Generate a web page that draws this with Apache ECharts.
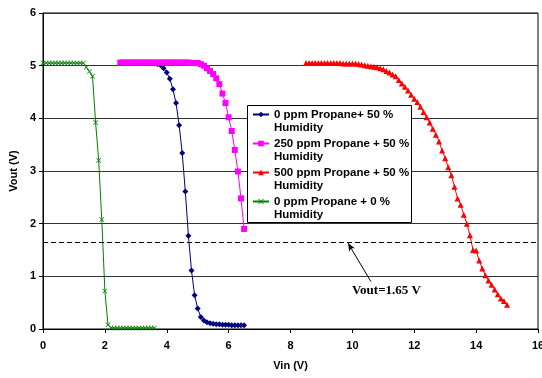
<!DOCTYPE html>
<html>
<head>
<meta charset="utf-8">
<script src="https://cdn.jsdelivr.net/npm/echarts@6/dist/echarts.min.js"></script>
<style>
  html, body { margin: 0; padding: 0; background: #fff; }
  #chart { width: 542px; height: 378px; }
</style>
</head>
<body>
<div id="chart"></div>
<script>
// Vin sweep (V) and measured Vout (V) for each curve
const blueVin = [2.5, 2.6, 2.7, 2.8, 2.9, 3.0, 3.1, 3.2, 3.3, 3.4, 3.5, 3.6, 3.7, 3.8, 3.9, 4.0, 4.1, 4.2, 4.3, 4.4,
  4.5, 4.6, 4.7, 4.8, 4.9, 5.0, 5.1, 5.2, 5.3, 5.4, 5.5, 5.6, 5.7, 5.8, 5.9, 6.0, 6.1, 6.2, 6.3, 6.4, 6.5];
const blueVout = [5.05, 5.05, 5.05, 5.05, 5.05, 5.05, 5.05, 5.05, 5.05, 5.05, 5.05, 5.04,
  5.03, 5.01, 4.95, 4.87, 4.75, 4.55, 4.29, 3.87, 3.34, 2.61,
  1.77, 1.11, 0.64, 0.39, 0.23, 0.16, 0.13, 0.11, 0.10, 0.09,
  0.09, 0.08, 0.08, 0.08, 0.07, 0.07, 0.07, 0.07, 0.07];

const pinkVin = [2.5, 2.6, 2.7, 2.8, 2.9, 3.0, 3.1, 3.2, 3.3, 3.4, 3.5, 3.6, 3.7, 3.8, 3.9, 4.0, 4.1, 4.2, 4.3, 4.4,
  4.5, 4.6, 4.7, 4.8, 4.9, 5.0, 5.1, 5.2, 5.3, 5.4, 5.5, 5.6, 5.7, 5.8, 5.9, 6.0, 6.1, 6.2, 6.3, 6.4, 6.5];
const pinkVout = [5.06, 5.06, 5.06, 5.06, 5.06, 5.06, 5.06, 5.06, 5.06, 5.06, 5.06, 5.06, 5.06, 5.06, 5.06,
  5.06, 5.06, 5.06, 5.06, 5.06, 5.06, 5.06, 5.06, 5.05, 5.05,
  5.05, 5.03, 5.00, 4.95, 4.90, 4.84, 4.76, 4.65, 4.47, 4.29,
  4.02, 3.76, 3.40, 2.99, 2.48, 1.90];

const redVin = [8.5, 8.6, 8.7, 8.8, 8.9, 9.0, 9.1, 9.2, 9.3, 9.4, 9.5, 9.6, 9.7, 9.8, 9.9,
  10.0, 10.1, 10.2, 10.3, 10.4, 10.5, 10.6, 10.7, 10.8, 10.9,
  11.0, 11.1, 11.2, 11.3, 11.4, 11.5, 11.6, 11.7, 11.8, 11.9,
  12.0, 12.1, 12.2, 12.3, 12.4, 12.5, 12.6, 12.7, 12.8, 12.9,
  13.0, 13.1, 13.2, 13.3, 13.4, 13.5, 13.6, 13.7, 13.8, 13.9,
  14.0, 14.1, 14.2, 14.3, 14.4, 14.5, 14.6, 14.7, 14.8, 14.9, 15.0];
const redVout = [5.05, 5.05, 5.05, 5.05, 5.05, 5.05, 5.05, 5.05, 5.05, 5.05, 5.05, 5.05, 5.04, 5.04, 5.04,
  5.04, 5.04, 5.03, 5.02, 5.01, 5.00, 4.99, 4.98, 4.97, 4.95,
  4.93, 4.90, 4.87, 4.83, 4.80, 4.73, 4.66, 4.60, 4.53, 4.45,
  4.37, 4.31, 4.22, 4.12, 4.02, 3.92, 3.80, 3.69, 3.56, 3.39,
  3.24, 3.07, 2.92, 2.70, 2.48, 2.36, 2.17, 2.00, 1.78, 1.50,
  1.49, 1.30, 1.15, 1.02, 0.92, 0.84, 0.75, 0.66, 0.58, 0.53, 0.46];

const greenVin = [0.0, 0.1, 0.2, 0.3, 0.4, 0.5, 0.6, 0.7, 0.8, 0.9, 1.0, 1.1, 1.2, 1.3,
  1.4, 1.5, 1.6, 1.7, 1.8, 1.9, 2.0, 2.1,
  2.2, 2.3, 2.4, 2.5, 2.6, 2.7, 2.8, 2.9, 3.0, 3.1, 3.2, 3.3, 3.4, 3.5, 3.6];
const greenVout = [5.05, 5.05, 5.05, 5.05, 5.05, 5.05, 5.05, 5.05, 5.05, 5.05, 5.05, 5.05, 5.05, 5.05,
  4.97, 4.89, 4.80, 3.92, 3.20, 2.08, 0.72, 0.08,
  0.02, 0.02, 0.02, 0.02, 0.02, 0.02, 0.02, 0.02, 0.02, 0.02, 0.02, 0.02, 0.02, 0.02, 0.02];

const seriesNames = [
  '0 ppm Propane+ 50 %\nHumidity',
  '250 ppm Propane + 50 %\nHumidity',
  '500 ppm Propane + 50 %\nHumidity',
  '0 ppm Propane + 0 %\nHumidity'
];
const xTicks = {min: 0, max: 16, step: 2};
const yTicks = {min: 0, max: 6, step: 1};
const thresholdVout = 1.65;

const FONT = 'Arial, "Liberation Sans", sans-serif';
const crossPath = 'path://M1,0L5,4L9,0L10,1L6,5L10,9L9,10L5,6L1,10L0,9L4,5L0,1Z';

function pairs(xs, ys) {
  return xs.map((x, i) => [x, ys[i]]);
}

function lineSeries(name, xs, ys, color, symbol, size) {
  return {
    name: name,
    type: 'line',
    data: pairs(xs, ys),
    symbol: symbol,
    symbolSize: size,
    showSymbol: true,
    lineStyle: {color: color, width: 1},
    itemStyle: {color: color, borderWidth: 0},
    emphasis: {disabled: true}
  };
}

const chart = echarts.init(document.getElementById('chart'), null, {renderer: 'canvas'});

const series = [
  lineSeries(seriesNames[0], blueVin, blueVout, '#000080', 'diamond', 6),
  lineSeries(seriesNames[1], pinkVin, pinkVout, '#FF00FF', 'rect', 6),
  lineSeries(seriesNames[2], redVin, redVout, '#FF0000', 'triangle', 6),
  lineSeries(seriesNames[3], greenVin, greenVout, '#008000', crossPath, 5)
];

// threshold line, arrow and its label
series[3].markLine = {
  silent: true,
  symbol: 'none',
  label: {show: false},
  animation: false,
  data: [
    {yAxis: thresholdVout, lineStyle: {color: '#000', width: 1, type: [5, 3]}},
    [
      {coord: [10.6, 0.9], symbol: 'none', lineStyle: {color: '#000', width: 1, type: 'solid'}},
      {coord: [9.86, 1.63], symbol: 'arrow', symbolSize: [5, 8]}
    ]
  ]
};
series[3].markPoint = {
  silent: true,
  symbol: 'rect',
  symbolSize: 0,
  animation: false,
  data: [{
    coord: [11.1, 0.72],
    label: {
      show: true,
      position: 'inside',
      formatter: 'Vout=1.65 V',
      color: '#000',
      fontFamily: '"Times New Roman", "Liberation Serif", serif',
      fontWeight: 'bold',
      fontSize: 13
    }
  }]
};

chart.setOption({
  animation: false,
  backgroundColor: '#fff',
  grid: {
    left: 43, right: 4, top: 13, bottom: 49,
    outerBoundsMode: 'none',
    show: true,
    borderColor: '#000',
    borderWidth: 1,
    backgroundColor: 'transparent'
  },
  graphic: [{
    type: 'rect',
    left: 247, top: 105,
    shape: {width: 164, height: 117},
    style: {fill: '#fff', stroke: '#000', lineWidth: 1},
    z: 5,
    silent: true
  }],
  legend: {
    orient: 'vertical',
    left: 252,
    top: 95,
    z: 10,
    padding: 0,
    itemGap: -10,
    itemWidth: 16,
    itemHeight: 7,
    backgroundColor: 'transparent',
    selectedMode: false,
    // leading blank line puts the icon level with the first text line
    formatter: name => '\n' + name,
    textStyle: {
      color: '#000',
      fontFamily: FONT,
      fontWeight: 'bold',
      fontSize: 11.5,
      lineHeight: 13
    },
    data: seriesNames
  },
  xAxis: {
    type: 'value',
    min: xTicks.min,
    max: xTicks.max,
    interval: xTicks.step,
    name: 'Vin (V)',
    nameLocation: 'middle',
    nameGap: 31,
    nameTextStyle: {color: '#000', fontFamily: FONT, fontWeight: 'bold', fontSize: 11},
    axisLine: {show: true, onZero: false, lineStyle: {color: '#000', width: 1}},
    axisTick: {show: true, inside: false, length: 4, lineStyle: {color: '#000'}},
    axisLabel: {color: '#000', fontFamily: FONT, fontWeight: 'bold', fontSize: 11, margin: 11},
    splitLine: {show: false}
  },
  yAxis: {
    type: 'value',
    min: yTicks.min,
    max: yTicks.max,
    interval: yTicks.step,
    name: 'Vout (V)',
    nameLocation: 'middle',
    nameGap: 20,
    nameTextStyle: {color: '#000', fontFamily: FONT, fontWeight: 'bold', fontSize: 11},
    axisLine: {show: true, onZero: false, lineStyle: {color: '#000', width: 1}},
    axisTick: {show: true, inside: false, length: 4, lineStyle: {color: '#000'}},
    axisLabel: {color: '#000', fontFamily: FONT, fontWeight: 'bold', fontSize: 11, margin: 7},
    splitLine: {show: true, lineStyle: {color: '#333', width: 1}}
  },
  series: series
});
</script>
</body>
</html>
